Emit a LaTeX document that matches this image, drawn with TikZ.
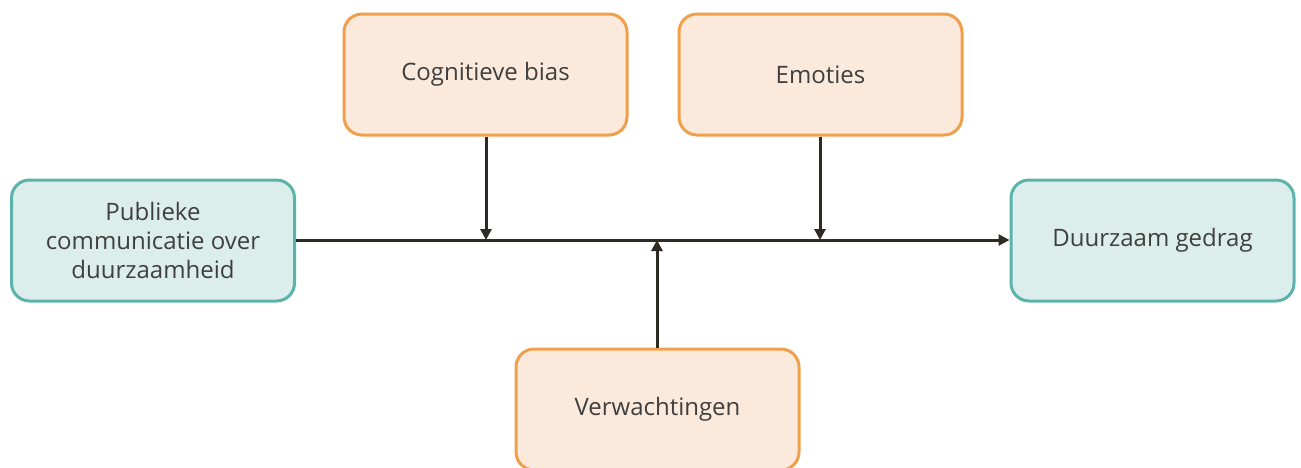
\documentclass[tikz,border=0pt]{standalone}
\usepackage{fontspec}
\setmainfont{Open Sans}
\usetikzlibrary{arrows.meta}
\definecolor{orbord}{HTML}{F0A04B}
\definecolor{orfill}{HTML}{FBEADB}
\definecolor{tlbord}{HTML}{5AB4AC}
\definecolor{tlfill}{HTML}{DCEEEB}
\definecolor{txt}{HTML}{3F3F3F}
\definecolor{arr}{HTML}{2E2B25}
\begin{document}
\begin{tikzpicture}[x=1pt,y=-1pt,
  box/.style={rounded corners=18pt, line width=3pt, minimum width=283pt, minimum height=121pt, inner sep=0pt, align=center, text=txt, font=\fontsize{24pt}{29pt}\selectfont},
  orbox/.style={box, draw=orbord, fill=orfill},
  tlbox/.style={box, draw=tlbord, fill=tlfill},
  conn/.style={draw=arr, line width=3pt, -{Triangle[length=11pt,width=11pt]}}]
\useasboundingbox (0,0) rectangle (1301,467);
\begin{scope}
\clip (0,0) rectangle (1301,467);
\node[tlbox] (pub) at (153,240.5) {Publieke\\communicatie over\\duurzaamheid};
\node[orbox] (cog) at (485.5,74.5) {\raisebox{-3pt}{Cognitieve bias}};
\node[orbox] (emo) at (820.5,74.5) {\raisebox{-2pt}{Emoties}};
\node[tlbox] (duur) at (1152.5,240.5) {\raisebox{-2pt}{Duurzaam gedrag}};
\node[orbox] (ver) at (657.5,409.5) {\raisebox{-3pt}{Verwachtingen}};
\end{scope}
\coordinate (j1) at (486,240);
\coordinate (j2) at (820,240);
\coordinate (j3) at (657,240);
\draw[conn] (pub.east |- 0,240) -- (duur.west |- 0,240);
\draw[conn] (cog.south -| j1) -- (j1);
\draw[conn] (emo.south -| j2) -- (j2);
\draw[conn] (ver.north -| j3) -- (j3);
\end{tikzpicture}
\end{document}
